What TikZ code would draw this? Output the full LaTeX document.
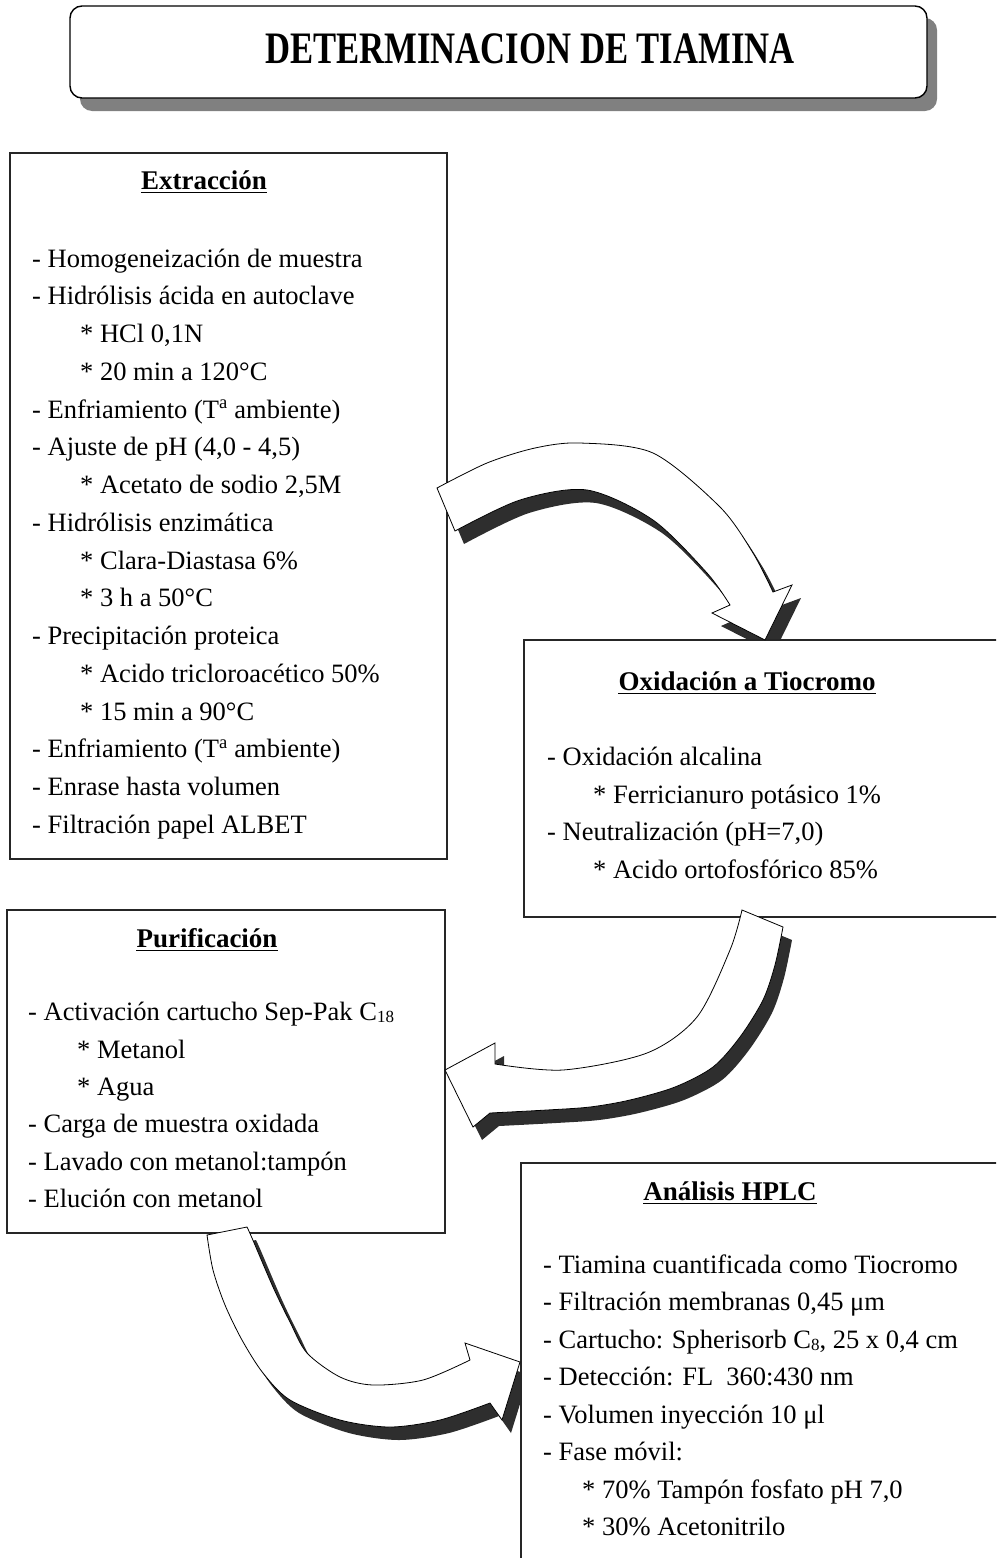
\documentclass[tikz,border=0pt]{standalone}
\usepackage{fontspec}
\setmainfont{Liberation Serif}

% outlines of the three curved block arrows (pixel-like units, y grows downwards)
\newcommand{\arrowExtOx}{plot[smooth] coordinates {(437,488) (487,463) (535,448) (580,443) (653,453) (720,507) (753,553) (773,592)} -- (792,585) -- (765,640) -- (712,613) -- plot[smooth] coordinates {(730,605) (707,573) (653,520) (587,490) (520,500) (455,531)} -- cycle}
\newcommand{\arrowOxPur}{plot[smooth] coordinates {(742,910) (730,950) (697,1017) (647,1053) (563,1070) (495,1064)} -- (495,1043) -- (445,1070) -- (473,1127) -- plot[smooth] coordinates {(490,1113) (547,1110) (590,1107) (630,1100) (675,1087) (713,1067) (740,1037) (763,1000) (775,965) (783,927)} -- cycle}
\newcommand{\arrowPurHplc}{plot[smooth] coordinates {(207,1235) (213,1270) (225,1305) (242,1340) (263,1373) (290,1400) (340,1420) (390,1427) (440,1420) (490,1403)} -- (502,1420) -- (520,1362) -- (465,1343) -- plot[smooth] coordinates {(470,1360) (423,1380) (373,1385) (340,1377) (307,1353) (290,1322) (273,1287) (252,1238) (247,1227)} -- cycle}

\newcommand{\shadowof}[1]{\fill[arrshadow,shift={(9,13)}] #1;}
\newcommand{\bodyof}[1]{\draw[arrbody] #1;}
\newcommand{\lowsub}[1]{\raisebox{-2pt}{\fontsize{17}{17}\selectfont #1}}

\begin{document}
\begin{tikzpicture}[x=1pt,y=-1pt,
  body/.style={anchor=base west, inner sep=0pt, font=\fontsize{26.5}{30}\selectfont},
  head/.style={anchor=base, inner sep=0pt, font=\fontsize{27}{30}\selectfont\bfseries},
  stepframe/.style={draw=black!85, line width=1.6pt, fill=white},
  arrshadow/.style={fill=black!82},
  arrbody/.style={draw=black, line width=0.8pt, fill=white},
  uline/.style={line width=1.2pt}
]
\useasboundingbox (0,0) rectangle (996,1558);
\clip (0,0) rectangle (996,1558);

% title banner with its shadow
\fill[black!50, rounded corners=12pt] (80,18) rectangle (937,111);
\draw[line width=1.4pt, fill=white, rounded corners=12pt] (70,6) rectangle (927,98);
\node[anchor=base, inner sep=0pt] (title) at (530,63)
  {\scalebox{0.77}[1]{\fontsize{45}{50}\selectfont\bfseries DETERMINACION DE TIAMINA}};

% arrow shadows sit below the step frames
\expandafter\shadowof\expandafter{\arrowExtOx}
\expandafter\shadowof\expandafter{\arrowOxPur}
\expandafter\shadowof\expandafter{\arrowPurHplc}

% step frames
\draw[stepframe] (10,153) rectangle (447,859);
\draw[stepframe] (524,640) rectangle (1010,917);
\draw[stepframe] (7,910) rectangle (445,1233);
\draw[stepframe] (521,1163) rectangle (1010,1575);

% arrow bodies on top
\expandafter\bodyof\expandafter{\arrowExtOx}
\expandafter\bodyof\expandafter{\arrowOxPur}
\expandafter\bodyof\expandafter{\arrowPurHplc}

% Extraccion
\node[head] (h1) at (204,189) {Extracción};
\draw[uline] ([yshift=-3.5pt]h1.base west) -- ([yshift=-3.5pt]h1.base east);
\node[body] (e1)  at (32,267)    {- Homogeneización de muestra};
\node[body] (e2)  at (32,304.75) {- Hidrólisis ácida en autoclave};
\node[body] (e3)  at (80,342.5)  {* HCl 0,1N};
\node[body] (e4)  at (80,380.25) {* 20 min a 120°C};
\node[body] (e5)  at (32,418)    {- Enfriamiento (T\textsuperscript{a} ambiente)};
\node[body] (e6)  at (32,455.75) {- Ajuste de pH (4,0 - 4,5)};
\node[body] (e7)  at (80,493.5)  {* Acetato de sodio 2,5M};
\node[body] (e8)  at (32,531.25) {- Hidrólisis enzimática};
\node[body] (e9)  at (80,569)    {* Clara-Diastasa 6\%};
\node[body] (e10) at (80,606.75) {* 3 h a 50°C};
\node[body] (e11) at (32,644.5)  {- Precipitación proteica};
\node[body] (e12) at (80,682.25) {* Acido tricloroacético 50\%};
\node[body] (e13) at (80,720)    {* 15 min a 90°C};
\node[body] (e14) at (32,757.75) {- Enfriamiento (T\textsuperscript{a} ambiente)};
\node[body] (e15) at (32,795.5)  {- Enrase hasta volumen};
\node[body] (e16) at (32,833)    {- Filtración papel ALBET};

% Oxidacion a Tiocromo
\node[head] (h2) at (747,690) {Oxidación a Tiocromo};
\draw[uline] ([yshift=-3.5pt]h2.base west) -- ([yshift=-3.5pt]h2.base east);
\node[body] (o1) at (547,765) {- Oxidación alcalina};
\node[body] (o2) at (593,803) {* Ferricianuro potásico 1\%};
\node[body] (o3) at (547,840) {- Neutralización (pH=7,0)};
\node[body] (o4) at (593,878) {* Acido ortofosfórico 85\%};

% Purificacion
\node[head] (h3) at (207,947) {Purificación};
\draw[uline] ([yshift=-3.5pt]h3.base west) -- ([yshift=-3.5pt]h3.base east);
\node[body] (p1) at (28,1020) {- Activación cartucho Sep-Pak C\lowsub{18}};
\node[body] (p2) at (77,1058) {* Metanol};
\node[body] (p3) at (77,1095) {* Agua};
\node[body] (p4) at (28,1132) {- Carga de muestra oxidada};
\node[body] (p5) at (28,1170) {- Lavado con metanol:tampón};
\node[body] (p6) at (28,1207) {- Elución con metanol};

% Analisis HPLC
\node[head] (h4) at (730,1200) {Análisis HPLC};
\draw[uline] ([yshift=-3.5pt]h4.base west) -- ([yshift=-3.5pt]h4.base east);
\node[body] (a1) at (543,1273) {- Tiamina cuantificada como Tiocromo};
\node[body] (a2) at (543,1310) {- Filtración membranas 0,45 μm};
\node[body] (a3) at (543,1348) {- Cartucho: Spherisorb C\lowsub{8}, 25 x 0,4 cm};
\node[body] (a4) at (543,1385) {- Detección: FL\ \ 360:430 nm};
\node[body] (a5) at (543,1423) {- Volumen inyección 10 μl};
\node[body] (a6) at (543,1460) {- Fase móvil:};
\node[body] (a7) at (582,1498) {* 70\% Tampón fosfato pH 7,0};
\node[body] (a8) at (582,1535) {* 30\% Acetonitrilo};
\end{tikzpicture}
\end{document}
